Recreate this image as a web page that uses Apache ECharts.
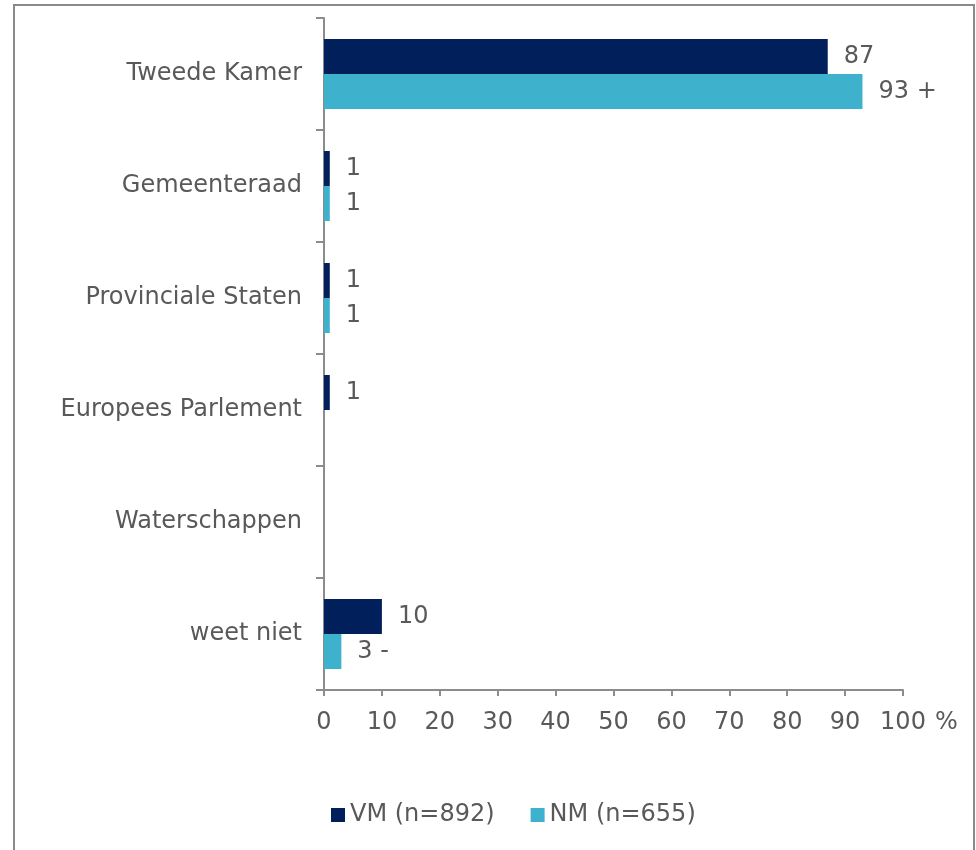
<!DOCTYPE html>
<html>
<head>
<meta charset="utf-8">
<script src="https://cdn.jsdelivr.net/npm/echarts@6/dist/echarts.min.js"></script>
<style>
  html, body { margin: 0; padding: 0; background: #fff; }
  #chart { width: 976px; height: 850px; }
</style>
</head>
<body>
<div id="chart"></div>
<script>
var categories = ["Tweede Kamer", "Gemeenteraad", "Provinciale Staten", "Europees Parlement", "Waterschappen", "weet niet"];
var vmValues = [87, 1, 1, 1, 0, 10];
var nmValues = [93, 1, 1, 0, 0, 3];
// significance markers next to the NM values
var nmMarks = ["+", "", "", "", "", "-"];
var xTicks = [0, 10, 20, 30, 40, 50, 60, 70, 80, 90, 100];

var textColor = '#595959';
var axisColor = '#8c8c8c';
var font = 'DejaVu Sans';
var fs = 24;

function valueLabel(marks) {
	return function (p) {
		if (!p.value) return '';
		var m = marks ? marks[p.dataIndex] : '';
		return m ? p.value + ' ' + m : String(p.value);
	};
}

var option = {
	animation: false,
	backgroundColor: '#fff',
	textStyle: { fontFamily: font },
	graphic: [{
		type: 'rect',
		shape: { x: 14, y: 5, width: 960, height: 900 },
		style: { fill: 'none', stroke: '#8a8a8a', lineWidth: 2 },
		silent: true
	}],
	grid: { left: 324, top: 18, width: 579, height: 672, containLabel: false },
	legend: {
		top: 798,
		left: 326,
		itemWidth: 14,
		itemHeight: 14,
		itemGap: 36,
		icon: 'rect',
		textStyle: { color: textColor, fontSize: fs, fontFamily: font },
		data: ['VM (n=892)', 'NM (n=655)']
	},
	xAxis: {
		type: 'value',
		min: 0,
		max: 100,
		interval: 10,
		name: '%',
		nameLocation: 'end',
		nameGap: 32,
		nameTextStyle: { color: textColor, fontSize: fs, fontFamily: font, verticalAlign: 'top', padding: [21, 0, 0, 0] },
		axisLine: { show: true, lineStyle: { color: axisColor, width: 2 } },
		axisTick: { show: true, length: 6, lineStyle: { color: axisColor, width: 2 } },
		axisLabel: {
			color: textColor, fontSize: fs, fontFamily: font, margin: 21,
			formatter: function (v) { return xTicks.indexOf(v) >= 0 ? String(v) : ''; }
		},
		splitLine: { show: false }
	},
	yAxis: {
		type: 'category',
		inverse: true,
		data: categories,
		axisLine: { show: true, lineStyle: { color: axisColor, width: 2 } },
		axisTick: { show: true, length: 8, lineStyle: { color: axisColor, width: 2 } },
		axisLabel: { color: textColor, fontSize: fs, fontFamily: font, margin: 22 }
	},
	series: [{
		name: 'VM (n=892)',
		type: 'bar',
		data: vmValues,
		barWidth: 35,
		barGap: '0%',
		itemStyle: { color: '#001F5B' },
		label: {
			show: true, position: 'right', distance: 16,
			color: textColor, fontSize: fs, fontFamily: font,
			formatter: valueLabel(null)
		}
	}, {
		name: 'NM (n=655)',
		type: 'bar',
		data: nmValues,
		barWidth: 35,
		barGap: '0%',
		itemStyle: { color: '#3EB1CC' },
		label: {
			show: true, position: 'right', distance: 16,
			color: textColor, fontSize: fs, fontFamily: font,
			formatter: valueLabel(nmMarks)
		}
	}]
};

var myChart = echarts.init(document.getElementById('chart'));
myChart.setOption(option);
</script>
</body>
</html>
